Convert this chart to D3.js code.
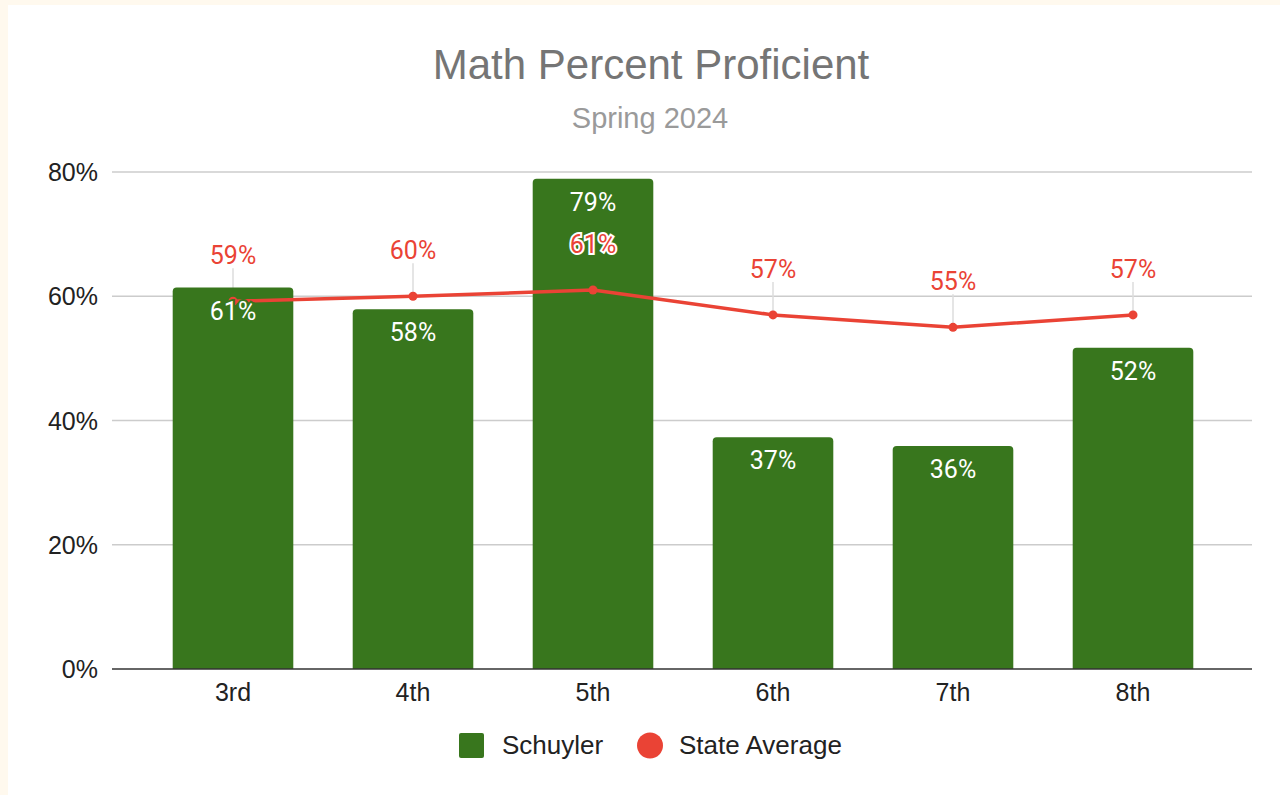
<!DOCTYPE html>
<html>
<head>
<meta charset="utf-8">
<script src="https://cdn.jsdelivr.net/npm/d3@7"></script>
<style>
  html, body { margin: 0; padding: 0; background: #fff9ee; }
  svg { display: block; }
</style>
</head>
<body>
<svg id="chart" width="1280" height="795"></svg>
<script>
// data
const grades = ["3rd", "4th", "5th", "6th", "7th", "8th"];
const schuyler = [61.4, 57.9, 78.9, 37.3, 35.9, 51.7];
const stateAvg = [59.2, 60.0, 61.0, 57.0, 55.0, 57.0];
const yTicks = [0, 20, 40, 60, 80];

const green = "#38761d", red = "#ea4335";
const fontAxis = "Liberation Sans, Arial, sans-serif";
const fontLabel = "Roboto, Arial, sans-serif";

const svg = d3.select("#chart");

// white card
svg.append("rect")
  .attr("x", 8).attr("y", 5)
  .attr("width", 1272).attr("height", 790)
  .attr("fill", "#fff");

const x = d3.scaleBand()
  .domain(grades)
  .range([143, 1223])
  .paddingInner(0.33)
  .paddingOuter(0.165);

const y = d3.scaleLinear()
  .domain([0, 80])
  .range([669, 172]);

const cx = i => x(grades[i]) + x.bandwidth() / 2;

// title
svg.append("text")
  .attr("x", 651).attr("y", 79)
  .attr("text-anchor", "middle")
  .style("font-family", fontAxis)
  .style("font-size", "42px")
  .style("fill", "#757575")
  .text("Math Percent Proficient");

svg.append("text")
  .attr("x", 650).attr("y", 128)
  .attr("text-anchor", "middle")
  .style("font-family", fontAxis)
  .style("font-size", "29px")
  .style("fill", "#9a9a9a")
  .text("Spring 2024");

// gridlines + y labels
const grid = svg.append("g");
grid.selectAll("line")
  .data(yTicks.filter(d => d > 0))
  .enter().append("line")
    .attr("x1", 112).attr("x2", 1252)
    .attr("y1", d => y(d)).attr("y2", d => y(d))
    .attr("stroke", "#cccccc")
    .attr("stroke-width", 1.5);

grid.selectAll("text")
  .data(yTicks)
  .enter().append("text")
    .attr("x", 98)
    .attr("y", d => y(d) + 9)
    .attr("text-anchor", "end")
    .style("font-family", fontAxis)
    .style("font-size", "25px")
    .style("fill", "#222")
    .text(d => d + "%");

// leader lines from state average labels down to the points (bars drawn over them)
svg.append("g").selectAll("line")
  .data(stateAvg)
  .enter().append("line")
    .attr("x1", (d, i) => cx(i)).attr("x2", (d, i) => cx(i))
    .attr("y1", d => y(d) - 33)
    .attr("y2", d => y(d))
    .attr("stroke", "#dcdcdc")
    .attr("stroke-width", 1.5);

// bars
svg.append("g").selectAll("path")
  .data(schuyler)
  .enter().append("path")
    .attr("d", (d, i) => {
      const x0 = x(grades[i]), w = x.bandwidth(), y0 = y(d), y1 = y(0), r = 4;
      return `M${x0},${y1}V${y0 + r}Q${x0},${y0} ${x0 + r},${y0}H${x0 + w - r}Q${x0 + w},${y0} ${x0 + w},${y0 + r}V${y1}Z`;
    })
    .attr("fill", green);

// baseline
svg.append("line")
  .attr("x1", 112).attr("x2", 1252)
  .attr("y1", y(0)).attr("y2", y(0))
  .attr("stroke", "#333")
  .attr("stroke-width", 1.5);

// x labels
svg.append("g").selectAll("text")
  .data(grades)
  .enter().append("text")
    .attr("x", d => x(d) + x.bandwidth() / 2)
    .attr("y", 701)
    .attr("text-anchor", "middle")
    .style("font-family", fontAxis)
    .style("font-size", "25px")
    .style("fill", "#222")
    .text(d => d);

// state average line
const line = d3.line()
  .x((d, i) => cx(i))
  .y(d => y(d));

svg.append("path")
  .datum(stateAvg)
  .attr("d", line)
  .attr("fill", "none")
  .attr("stroke", red)
  .attr("stroke-width", 3.5)
  .attr("stroke-linejoin", "round");

svg.append("g").selectAll("circle")
  .data(stateAvg)
  .enter().append("circle")
    .attr("cx", (d, i) => cx(i))
    .attr("cy", d => y(d))
    .attr("r", 4.5)
    .attr("fill", red);

// bar value labels (halo in bar colour)
svg.append("g").selectAll("text")
  .data(schuyler)
  .enter().append("text")
    .attr("x", (d, i) => cx(i))
    .attr("y", d => y(d) + 32)
    .attr("text-anchor", "middle")
    .style("font-family", fontLabel)
    .style("font-size", "25px")
    .style("fill", "#fff")
    .style("stroke", green)
    .style("stroke-width", 4)
    .style("paint-order", "stroke")
    .text(d => Math.round(d) + "%");

// state average value labels (white halo)
svg.append("g").selectAll("text")
  .data(stateAvg)
  .enter().append("text")
    .attr("x", (d, i) => cx(i))
    .attr("y", d => y(d) - 37)
    .attr("text-anchor", "middle")
    .style("font-family", fontLabel)
    .style("font-size", "25px")
    .style("fill", red)
    .style("stroke", "#fff")
    .style("stroke-width", 4)
    .style("paint-order", "stroke")
    .text(d => Math.round(d) + "%");

// legend
const legend = svg.append("g")
  .style("font-family", fontAxis)
  .style("font-size", "26px")
  .style("fill", "#222");

legend.append("rect")
  .attr("x", 459).attr("y", 733)
  .attr("width", 25).attr("height", 25)
  .attr("rx", 2)
  .attr("fill", green);

legend.append("text")
  .attr("x", 502).attr("y", 754)
  .text("Schuyler");

legend.append("circle")
  .attr("cx", 650).attr("cy", 745.5)
  .attr("r", 13)
  .attr("fill", red);

legend.append("text")
  .attr("x", 679).attr("y", 754)
  .text("State Average");
</script>
</body>
</html>
